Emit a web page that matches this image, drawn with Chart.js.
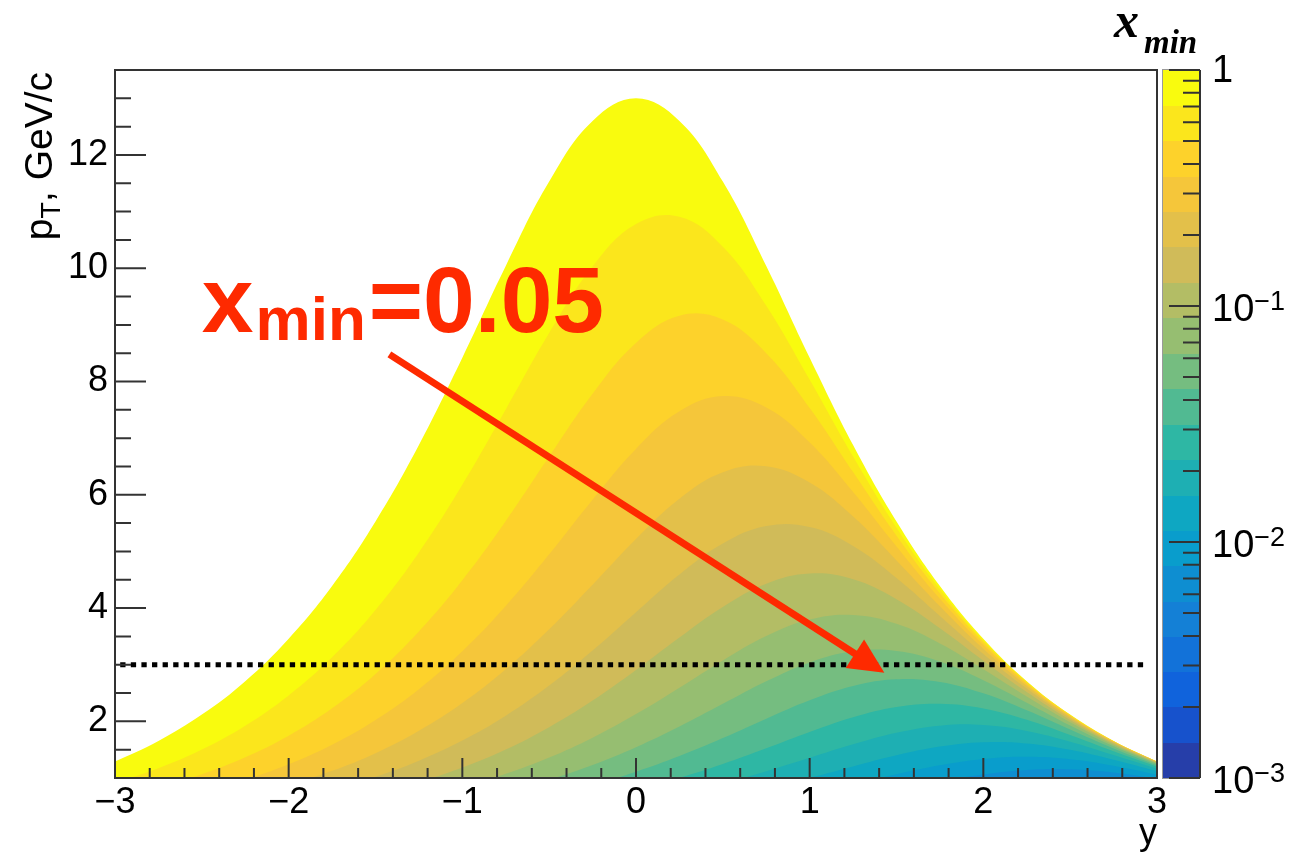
<!DOCTYPE html>
<html>
<head>
<meta charset="utf-8">
<title>x_min in the (y, pT) plane</title>
<script src="https://cdn.jsdelivr.net/npm/chart.js@4.4.1/dist/chart.umd.min.js"></script>
<style>
  html, body { margin: 0; padding: 0; background: #ffffff; }
  canvas { display: block; }
</style>
</head>
<body>
<canvas id="xminChart" width="1312" height="854"></canvas>
<script>
const rapidity = [-3, -2.75, -2.5, -2.25, -2, -1.75, -1.5, -1.25, -1, -0.75, -0.5, -0.25, 0,
                  0.25, 0.5, 0.75, 1, 1.25, 1.5, 1.75, 2, 2.25, 2.5, 2.75, 3];

// x_min contour levels = colour bar bands (10^-3 ... 1)
const xminLevels = [0.001, 0.00141, 0.002, 0.00282, 0.00398, 0.00562, 0.00794, 0.0112, 0.0158,
                    0.0224, 0.0316, 0.0447, 0.0631, 0.0891, 0.126, 0.178, 0.251, 0.355, 0.501, 0.708, 1];

// pT (GeV/c) of the contour line at xminLevels[k], one array per level
const pt20 = [1.29, 1.655, 2.12, 2.71, 3.46, 4.39, 5.53, 6.88, 8.42, 10.04, 11.53, 12.60, 13.00,
              12.60, 11.53, 10.04, 8.42, 6.88, 5.53, 4.39, 3.46, 2.71, 2.12, 1.655, 1.29];
const pt19 = [0.915, 1.173, 1.503, 1.924, 2.458, 3.131, 3.966, 4.983, 6.177, 7.506, 8.855, 10.03, 10.78,
              10.91, 10.38, 9.337, 8.030, 6.675, 5.420, 4.333, 3.430, 2.698, 2.114, 1.653, 1.290];
const pt18 = [0.648, 0.831, 1.066, 1.366, 1.748, 2.231, 2.837, 3.586, 4.490, 5.537, 6.674, 7.784, 8.681,
              9.161, 9.094, 8.499, 7.532, 6.401, 5.277, 4.261, 3.395, 2.681, 2.106, 1.649, 1.288];
const pt17 = [0.459, 0.589, 0.756, 0.969, 1.241, 1.586, 2.023, 2.569, 3.239, 4.038, 4.950, 5.913, 6.810,
              7.474, 7.743, 7.541, 6.924, 6.050, 5.087, 4.164, 3.346, 2.657, 2.095, 1.643, 1.285];
const pt16 = [0.325, 0.417, 0.535, 0.686, 0.880, 1.126, 1.439, 1.834, 2.324, 2.921, 3.626, 4.414, 5.220,
              5.931, 6.399, 6.504, 6.216, 5.615, 4.842, 4.033, 3.280, 2.624, 2.079, 1.635, 1.282];
const pt15 = [0.230, 0.295, 0.379, 0.486, 0.624, 0.799, 1.023, 1.306, 1.661, 2.100, 2.632, 3.250, 3.926,
              4.591, 5.139, 5.447, 5.431, 5.097, 4.533, 3.862, 3.190, 2.579, 2.056, 1.625, 1.277];
const pt14 = [0.163, 0.209, 0.268, 0.345, 0.442, 0.567, 0.726, 0.928, 1.184, 1.504, 1.898, 2.368, 2.907,
              3.481, 4.021, 4.430, 4.610, 4.509, 4.157, 3.644, 3.072, 2.518, 2.026, 1.610, 1.269];
const pt13 = [0.115, 0.148, 0.190, 0.244, 0.313, 0.402, 0.515, 0.659, 0.842, 1.073, 1.361, 1.712, 2.128,
              2.594, 3.076, 3.505, 3.798, 3.878, 3.722, 3.375, 2.919, 2.437, 1.984, 1.589, 1.259];
const pt12 = [0.082, 0.105, 0.135, 0.173, 0.222, 0.285, 0.365, 0.468, 0.598, 0.764, 0.972, 1.230, 1.543,
              1.908, 2.309, 2.707, 3.041, 3.237, 3.243, 3.056, 2.727, 2.330, 1.928, 1.561, 1.246];
const pt11 = [0.058, 0.074, 0.095, 0.122, 0.157, 0.202, 0.259, 0.331, 0.425, 0.543, 0.693, 0.880, 1.112,
              1.389, 1.707, 2.048, 2.373, 2.625, 2.743, 2.696, 2.495, 2.195, 1.855, 1.523, 1.226];
const pt10 = [0.041, 0.053, 0.068, 0.087, 0.111, 0.143, 0.183, 0.235, 0.301, 0.386, 0.493, 0.628, 0.797,
              1.004, 1.248, 1.525, 1.812, 2.072, 2.254, 2.311, 2.228, 2.028, 1.759, 1.472, 1.200];
const pt09 = [0.029, 0.037, 0.048, 0.061, 0.079, 0.101, 0.130, 0.166, 0.213, 0.274, 0.350, 0.447, 0.569,
              0.721, 0.905, 1.120, 1.358, 1.596, 1.799, 1.924, 1.935, 1.832, 1.641, 1.406, 1.165];
const pt08 = [0.021, 0.026, 0.034, 0.043, 0.056, 0.072, 0.092, 0.118, 0.151, 0.194, 0.249, 0.318, 0.406,
              0.516, 0.651, 0.814, 1.003, 1.205, 1.401, 1.555, 1.632, 1.611, 1.498, 1.321, 1.119];
const pt07 = [0.015, 0.019, 0.024, 0.031, 0.039, 0.051, 0.065, 0.084, 0.107, 0.137, 0.176, 0.226, 0.288,
              0.368, 0.467, 0.588, 0.732, 0.896, 1.067, 1.224, 1.337, 1.377, 1.333, 1.218, 1.060];
const pt06 = [0.010, 0.013, 0.017, 0.022, 0.028, 0.036, 0.046, 0.059, 0.076, 0.098, 0.125, 0.160, 0.205,
              0.262, 0.333, 0.422, 0.530, 0.657, 0.798, 0.941, 1.064, 1.143, 1.155, 1.097, 0.987];

// innermost first, so it is painted on top
const contourLines = [pt06, pt07, pt08, pt09, pt10, pt11, pt12, pt13, pt14, pt15, pt16, pt17, pt18, pt19, pt20];
const contourLevelIdx = [6, 7, 8, 9, 10, 11, 12, 13, 14, 15, 16, 17, 18, 19, 20];

// dotted line at pT = 3 GeV/c
const cutPt = 3;
const cutRapidity = [-2.97, 2.95];

// annotation
const arrowRapidity = [-1.42, 1.43];
const arrowPt = [8.48, 2.86];
const labelRapidity = -2.5;
const labelPt = 8.87;

const xMajorTicks = [-3, -2, -1, 0, 1, 2, 3];
const yMajorTicks = [2, 4, 6, 8, 10, 12];
const zDecades = [1, 0.1, 0.01, 0.001];
const zDecadeExp = ['', '\u22121', '\u22122', '\u22123'];

// ROOT kBird palette
const birdStops = [0, 0.125, 0.25, 0.375, 0.5, 0.625, 0.75, 0.875, 1];
const birdR = [0.2082, 0.0592, 0.0780, 0.0232, 0.1802, 0.5301, 0.8186, 0.9956, 0.9764];
const birdG = [0.1664, 0.3599, 0.5041, 0.6419, 0.7178, 0.7492, 0.7328, 0.7862, 0.9832];
const birdB = [0.5293, 0.8684, 0.8385, 0.7914, 0.6425, 0.4662, 0.3499, 0.1968, 0.0539];

function bird(t) {
    let i = 0;
    while (i < birdStops.length - 2 && t > birdStops[i + 1]) i++;
    const f = (t - birdStops[i]) / (birdStops[i + 1] - birdStops[i]);
    const c = (arr) => Math.round(255 * (arr[i] + f * (arr[i + 1] - arr[i])));
    return `rgb(${c(birdR)}, ${c(birdG)}, ${c(birdB)})`;
}

// colour of band k (between xminLevels[k] and xminLevels[k+1])
const nBands = xminLevels.length - 1;
const bandColor = (k) => bird((k + 0.99) / nBands);

const RED = '#fe2a00';
const AXIS = '#333333';

const datasets = [];

datasets.push({
    label: 'pT = 3 GeV/c',
    data: cutRapidity.map(r => ({ x: r, y: cutPt })),
    borderColor: '#000000',
    borderWidth: 5,
    borderDash: [5.3, 5.3],
    borderCapStyle: 'butt',
    pointRadius: 0,
    fill: false
});

contourLines.forEach((pts, i) => {
    const k = contourLevelIdx[i];
    datasets.push({
        label: 'x_min = ' + xminLevels[k],
        data: rapidity.map((r, j) => ({ x: r, y: pts[j] })),
        borderWidth: 0,
        borderColor: 'rgba(0,0,0,0)',
        backgroundColor: bandColor(k - 1),
        fill: 'start',
        pointRadius: 0,
        tension: 0.4
    });
});

const rootStyle = {
    id: 'rootStyle',
    afterDatasetsDraw(chart) {
        const { ctx, chartArea: a, scales: { x, y, z } } = chart;
        ctx.save();

        // arrow
        const x0 = x.getPixelForValue(arrowRapidity[0]), y0 = y.getPixelForValue(arrowPt[0]);
        const x1 = x.getPixelForValue(arrowRapidity[1]), y1 = y.getPixelForValue(arrowPt[1]);
        const len = Math.hypot(x1 - x0, y1 - y0);
        const ux = (x1 - x0) / len, uy = (y1 - y0) / len;
        const headLen = 35, headHalf = 17;
        const bx = x1 - ux * headLen, by = y1 - uy * headLen;
        ctx.strokeStyle = RED;
        ctx.lineWidth = 7;
        ctx.lineCap = 'butt';
        ctx.beginPath();
        ctx.moveTo(x0, y0);
        ctx.lineTo(bx + ux * 2, by + uy * 2);
        ctx.stroke();
        ctx.fillStyle = RED;
        ctx.beginPath();
        ctx.moveTo(x1, y1);
        ctx.lineTo(bx - uy * headHalf, by + ux * headHalf);
        ctx.lineTo(bx + uy * headHalf, by - ux * headHalf);
        ctx.closePath();
        ctx.fill();

        // inward ticks and frame
        ctx.strokeStyle = AXIS;
        ctx.lineWidth = 2;
        ctx.beginPath();
        for (let i = 1; i < 30; i++) {
            const v = -3 + i * 0.2;
            const px = x.getPixelForValue(v);
            const l = i % 5 === 0 ? 20 : 10;
            ctx.moveTo(px, a.bottom);
            ctx.lineTo(px, a.bottom - l);
        }
        for (let i = 1; i < 25; i++) {
            const v = 1 + i * 0.5;
            const py = y.getPixelForValue(v);
            const l = v % 2 === 0 ? 31 : 16;
            ctx.moveTo(a.left, py);
            ctx.lineTo(a.left + l, py);
        }
        ctx.stroke();
        ctx.strokeRect(a.left, a.top, a.right - a.left, a.bottom - a.top);

        // colour bar
        const barL = z.left + 6, barR = z.left + 43;
        for (let k = 0; k < nBands; k++) {
            const top = z.getPixelForValue(xminLevels[k + 1]);
            const bot = z.getPixelForValue(xminLevels[k]);
            ctx.fillStyle = bandColor(k);
            ctx.fillRect(barL, Math.floor(top), barR - barL, Math.ceil(bot) - Math.floor(top));
        }
        ctx.strokeStyle = '#9a9a9a';
        ctx.lineWidth = 1;
        ctx.strokeRect(barL - 0.5, z.top - 0.5, barR - barL, z.bottom - z.top + 1);
        ctx.strokeStyle = AXIS;
        ctx.lineWidth = 2;
        ctx.beginPath();
        ctx.moveTo(barR, z.top);
        ctx.lineTo(barR, z.bottom);
        zDecades.forEach((d) => {
            const py = z.getPixelForValue(d);
            ctx.moveTo(barR, py);
            ctx.lineTo(barR - 31, py);
            if (d < 1) {
                for (let m = 2; m <= 9; m++) {
                    const pm = z.getPixelForValue(d * m);
                    ctx.moveTo(barR, pm);
                    ctx.lineTo(barR - 17, pm);
                }
            }
        });
        ctx.stroke();
        ctx.restore();
    },
    afterDraw(chart) {
        const { ctx, chartArea: a, scales: { x, y, z } } = chart;
        ctx.save();
        ctx.fillStyle = '#000000';

        // y axis title: p_T, GeV/c
        ctx.save();
        ctx.translate(52, a.top + 2);
        ctx.rotate(-Math.PI / 2);
        ctx.textBaseline = 'alphabetic';
        ctx.textAlign = 'left';
        const big = '39px "Liberation Sans", Arial, sans-serif';
        const small = '27px "Liberation Sans", Arial, sans-serif';
        ctx.font = big;
        const wP = ctx.measureText('p').width;
        const wRest = ctx.measureText(', GeV/c').width;
        ctx.font = small;
        const wT = ctx.measureText('T').width;
        let tx = -(wP + wT + wRest);
        ctx.font = big;
        ctx.fillText('p', tx, 0);
        tx += wP;
        ctx.font = small;
        ctx.fillText('T', tx, 8);
        tx += wT;
        ctx.font = big;
        ctx.fillText(', GeV/c', tx, 0);
        ctx.restore();

        // x axis title
        ctx.font = '36px "Liberation Sans", Arial, sans-serif';
        ctx.textAlign = 'right';
        ctx.textBaseline = 'alphabetic';
        ctx.fillText('y', a.right, 844);

        // colour bar title: x_min
        ctx.textAlign = 'left';
        ctx.font = 'italic bold 50px "Liberation Serif", "Times New Roman", serif';
        ctx.fillText('x', 1114, 37);
        const wx = ctx.measureText('x').width;
        ctx.font = 'italic bold 33px "Liberation Serif", "Times New Roman", serif';
        ctx.fillText('min', 1114 + wx + 5, 53);

        // colour bar labels
        const labX = z.left + 55;
        zDecades.forEach((d, i) => {
            const py = z.getPixelForValue(d);
            ctx.font = '38px "Liberation Sans", Arial, sans-serif';
            ctx.textBaseline = 'middle';
            if (d === 1) {
                ctx.fillText('1', labX, py + 2);
                return;
            }
            ctx.fillText('10', labX, py + 5);
            const w10 = ctx.measureText('10').width;
            ctx.font = '27px "Liberation Sans", Arial, sans-serif';
            ctx.textBaseline = 'alphabetic';
            ctx.fillText(zDecadeExp[i], labX + w10, py + 4);
        });

        // annotation label x_min=0.05
        ctx.fillStyle = RED;
        ctx.textBaseline = 'alphabetic';
        let lx = x.getPixelForValue(labelRapidity);
        const ly = y.getPixelForValue(labelPt);
        ctx.font = 'bold 93px "Liberation Sans", Arial, sans-serif';
        ctx.fillText('x', lx, ly);
        lx += ctx.measureText('x').width + 2;
        ctx.font = 'bold 62px "Liberation Sans", Arial, sans-serif';
        ctx.fillText('min', lx, ly + 8);
        lx += ctx.measureText('min').width + 3;
        ctx.font = 'bold 93px "Liberation Sans", Arial, sans-serif';
        ctx.fillText('=0.05', lx, ly);

        ctx.restore();
    }
};

const tickFont = { family: '"Liberation Sans", Arial, sans-serif', size: 36, lineHeight: 1.2 };
const signed = (v) => (v < 0 ? '\u2212' + Math.abs(v) : String(v));

new Chart(document.getElementById('xminChart'), {
    type: 'line',
    data: { datasets: datasets },
    options: {
        responsive: false,
        devicePixelRatio: 1,
        animation: false,
        events: [],
        layout: { padding: { top: 70, left: 0, right: 0, bottom: 0 } },
        elements: { line: { capBezierPoints: false } },
        plugins: {
            legend: { display: false },
            tooltip: { enabled: false }
        },
        scales: {
            x: {
                type: 'linear',
                position: 'bottom',
                min: -3,
                max: 3,
                grid: { display: false, drawTicks: false },
                border: { display: false },
                afterBuildTicks: (s) => { s.ticks = xMajorTicks.map(v => ({ value: v })); },
                afterFit: (s) => { s.height = 76; },
                ticks: {
                    font: tickFont,
                    color: '#000000',
                    padding: 3,
                    maxRotation: 0,
                    autoSkip: false,
                    callback: (v) => signed(v)
                }
            },
            y: {
                type: 'linear',
                position: 'left',
                min: 1,
                max: 13.5,
                grid: { display: false, drawTicks: false },
                border: { display: false },
                afterBuildTicks: (s) => { s.ticks = yMajorTicks.map(v => ({ value: v })); },
                afterFit: (s) => { s.width = 115; },
                ticks: {
                    font: tickFont,
                    color: '#000000',
                    padding: 7,
                    autoSkip: false,
                    callback: (v) => String(v)
                }
            },
            z: {
                axis: 'y',
                type: 'logarithmic',
                position: 'right',
                min: 0.001,
                max: 1,
                grid: { display: false, drawTicks: false },
                border: { display: false },
                ticks: { display: false },
                afterFit: (s) => { s.width = 155; }
            }
        }
    },
    plugins: [rootStyle]
});
</script>
</body>
</html>
